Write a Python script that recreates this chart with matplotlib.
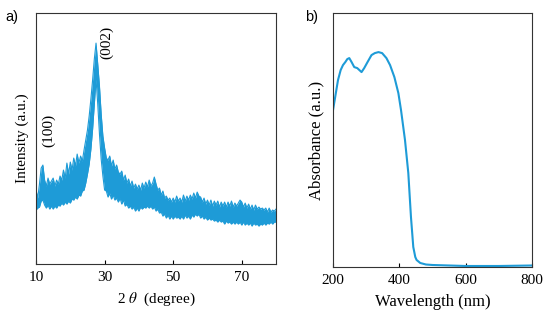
import numpy as np
import matplotlib
matplotlib.use("Agg")
from matplotlib import pyplot as plt

plt.rcParams['font.family'] = ['Liberation Serif', 'DejaVu Serif']
plt.rcParams['mathtext.fontset'] = 'stix'

BLUE = '#1e9bd7'

# a) XRD pattern: the noisy trace is read as its upper and lower edges
# every 0.5 degree (arbitrary units)
two_theta = np.arange(10, 80.01, 0.5)
xrd_upper = [
    74, 66, 80, 96, 99, 84, 78, 86, 80, 83,
    86, 78, 84, 80, 88, 84, 94, 86, 101, 90,
    102, 94, 106, 98, 110, 101, 108, 103, 114, 124,
    134, 148, 165, 184, 205, 221, 200, 178, 150, 128,
    116, 106, 104, 108, 98, 104, 95, 99, 92, 90,
    93, 84, 89, 81, 85, 78, 83, 76, 80, 75,
    79, 74, 81, 76, 82, 77, 84, 78, 81, 87,
    80, 74, 76, 69, 73, 66, 68, 64, 66, 62,
    66, 62, 68, 63, 66, 62, 69, 63, 68, 64,
    69, 65, 71, 66, 72, 68, 67, 62, 66, 60,
    64, 59, 64, 58, 63, 59, 63, 57, 62, 58,
    62, 57, 62, 58, 63, 57, 61, 58, 61, 64,
    62, 57, 61, 56, 60, 55, 59, 54, 59, 55,
    57, 55, 56, 54, 56, 52, 56, 52, 54, 53,
    55,
]
xrd_lower = [
    54, 56, 57, 63, 64, 59, 56, 59, 55, 58,
    55, 58, 56, 59, 58, 61, 59, 62, 60, 63,
    61, 65, 64, 67, 65, 69, 68, 73, 74, 81,
    90, 100, 115, 135, 160, 185, 160, 130, 105, 88,
    74, 73, 67, 71, 65, 69, 64, 66, 62, 66,
    60, 64, 58, 60, 56, 58, 55, 57, 53, 56,
    53, 57, 55, 57, 56, 58, 56, 58, 55, 57,
    53, 55, 51, 52, 48, 50, 46, 49, 45, 48,
    45, 48, 46, 47, 45, 48, 45, 49, 46, 48,
    45, 49, 47, 50, 48, 50, 46, 48, 45, 47,
    44, 46, 44, 45, 43, 44, 42, 44, 42, 43,
    40, 43, 41, 42, 40, 42, 40, 42, 40, 42,
    39, 42, 39, 41, 39, 41, 38, 41, 39, 40,
    38, 40, 39, 41, 39, 41, 40, 42, 40, 42,
    42,
]
xrd_ticks = [10, 30, 50, 70]

# b) UV-vis absorbance (arbitrary units)
wavelength = [200, 210, 215, 223, 230, 237, 243, 249, 256, 264, 273,
              286, 294, 304, 316, 326, 337, 348, 361, 372, 385,
              397, 405, 417, 427, 435, 442, 448, 452, 463, 480,
              500, 550, 600, 700, 800]
absorbance = [157, 177, 187, 197, 202, 205, 208, 209, 205, 200, 199,
              195, 199, 205, 212, 214, 215, 214, 209, 202, 190,
              174, 157, 127, 94, 50, 20, 10, 7, 4, 2.5,
              2, 1.5, 1, 1, 1.5]
uv_ticks = [200, 400, 600, 800]

fig = plt.figure(figsize=(5.5, 3.28), dpi=100)
ax_a = fig.add_axes([0.0655, 0.195, 0.4364, 0.765])
ax_b = fig.add_axes([0.6055, 0.186, 0.3618, 0.774])

ax_a.fill_between(two_theta, xrd_lower, xrd_upper, color=BLUE, lw=0)
ax_a.plot(two_theta, xrd_upper, color=BLUE, lw=0.8)
ax_a.plot(two_theta, xrd_lower, color=BLUE, lw=0.8)
ax_a.set_xlim(10, 80)
ax_a.set_ylim(0, 251)
ax_a.set_xticks(xrd_ticks)
ax_a.set_xlabel(r'2 $\it{\theta}$  (degree)', fontsize=11, labelpad=5)
ax_a.set_ylabel('Intensity (a.u.)', fontsize=11, labelpad=5)
ax_a.text(13.8, 134, '(100)', rotation=90, ha='center', va='center', fontsize=11)
ax_a.text(30.5, 222, '(002)', rotation=90, ha='center', va='center', fontsize=11)

ax_b.plot(wavelength, absorbance, color=BLUE, lw=1.5)
ax_b.set_xlim(200, 800)
ax_b.set_ylim(0, 254)
ax_b.set_xticks(uv_ticks)
ax_b.set_xlabel('Wavelength (nm)', fontsize=12, labelpad=5)
ax_b.set_ylabel('Absorbance (a.u.)', fontsize=12, labelpad=6)

for ax in (ax_a, ax_b):
    ax.set_yticks([])
    ax.tick_params(axis='x', direction='in', length=3, width=0.8, labelsize=11, pad=5)
    for s in ax.spines.values():
        s.set_linewidth(0.8)
        s.set_color('#333333')

fig.text(0.009, 0.935, 'a)', fontsize=10.5, family='Liberation Sans')
fig.text(0.555, 0.935, 'b)', fontsize=10.5, family='Liberation Sans')

fig.savefig('out.png', dpi=100)
